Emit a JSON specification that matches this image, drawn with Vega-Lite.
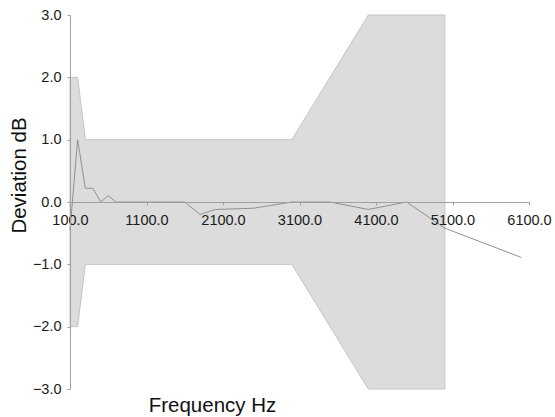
{
  "$schema": "https://vega.github.io/schema/vega-lite/v6.json",
  "autosize": {"type": "none"},
  "padding": {"left": 70, "top": 15, "right": 26, "bottom": 28},
  "width": 459,
  "height": 374,
  "config": {
    "view": {"stroke": null},
    "font": "Liberation Sans",
    "axis": {
      "grid": false,
      "domainColor": "#a0a0a0",
      "tickColor": "#a0a0a0",
      "labelColor": "#1a1a1a",
      "titleColor": "#111111",
      "labelFont": "Liberation Sans",
      "titleFont": "Liberation Sans",
      "labelFontSize": 14.5,
      "titleFontSize": 20.5,
      "titleFontWeight": "normal",
      "labelFlush": false,
      "labelOverlap": false
    }
  },
  "datasets": {
    "mask": [
      {"freq": 100, "upper": 2, "lower": -2},
      {"freq": 200, "upper": 2, "lower": -2},
      {"freq": 300, "upper": 1, "lower": -1},
      {"freq": 3000, "upper": 1, "lower": -1},
      {"freq": 4000, "upper": 3, "lower": -3},
      {"freq": 5000, "upper": 3, "lower": -3}
    ],
    "dev": [
      {"freq": 100, "dev": -0.45},
      {"freq": 200, "dev": 1.0},
      {"freq": 300, "dev": 0.22},
      {"freq": 400, "dev": 0.22},
      {"freq": 500, "dev": 0.0},
      {"freq": 600, "dev": 0.1},
      {"freq": 700, "dev": 0.0},
      {"freq": 1000, "dev": 0.0},
      {"freq": 1600, "dev": 0.0},
      {"freq": 1800, "dev": -0.2},
      {"freq": 2000, "dev": -0.12},
      {"freq": 2500, "dev": -0.1},
      {"freq": 3000, "dev": 0.0},
      {"freq": 3500, "dev": 0.0},
      {"freq": 4000, "dev": -0.12},
      {"freq": 4500, "dev": 0.0},
      {"freq": 5000, "dev": -0.42},
      {"freq": 6000, "dev": -0.89}
    ]
  },
  "layer": [
    {
      "data": {"name": "mask"},
      "mark": {"type": "area", "fill": "#dcdcdc", "stroke": "#c4c4c4", "strokeWidth": 1},
      "encoding": {
        "x": {
          "field": "freq", "type": "quantitative",
          "scale": {"domain": [100, 6100], "nice": false, "zero": false},
          "axis": {
            "title": "Frequency Hz",
            "values": [100, 1100, 2100, 3100, 4100, 5100, 6100],
            "format": ".1f",
            "offset": -187,
            "tickSize": 3,
            "labelPadding": 8,
            "labelDx": 2,
            "titleX": 142,
            "titleY": 209.5,
            "titleBaseline": "alphabetic",
            "titleAnchor": null,
            "zindex": 1
          }
        },
        "y": {
          "field": "upper", "type": "quantitative",
          "scale": {"domain": [-3, 3], "nice": false},
          "axis": {
            "title": "Deviation dB",
            "values": [-3, -2, -1, 0, 1, 2, 3],
            "format": ".1f",
            "tickSize": 3,
            "labelPadding": 6,
            "titleX": -45,
            "titleY": 160,
            "titleBaseline": "alphabetic",
            "titleAngle": -90,
            "zindex": 1
          }
        },
        "y2": {"field": "lower"}
      }
    },
    {
      "data": {"name": "dev"},
      "mark": {"type": "line", "color": "#909090", "strokeWidth": 1},
      "encoding": {
        "x": {"field": "freq", "type": "quantitative"},
        "y": {"field": "dev", "type": "quantitative"}
      }
    }
  ]
}
